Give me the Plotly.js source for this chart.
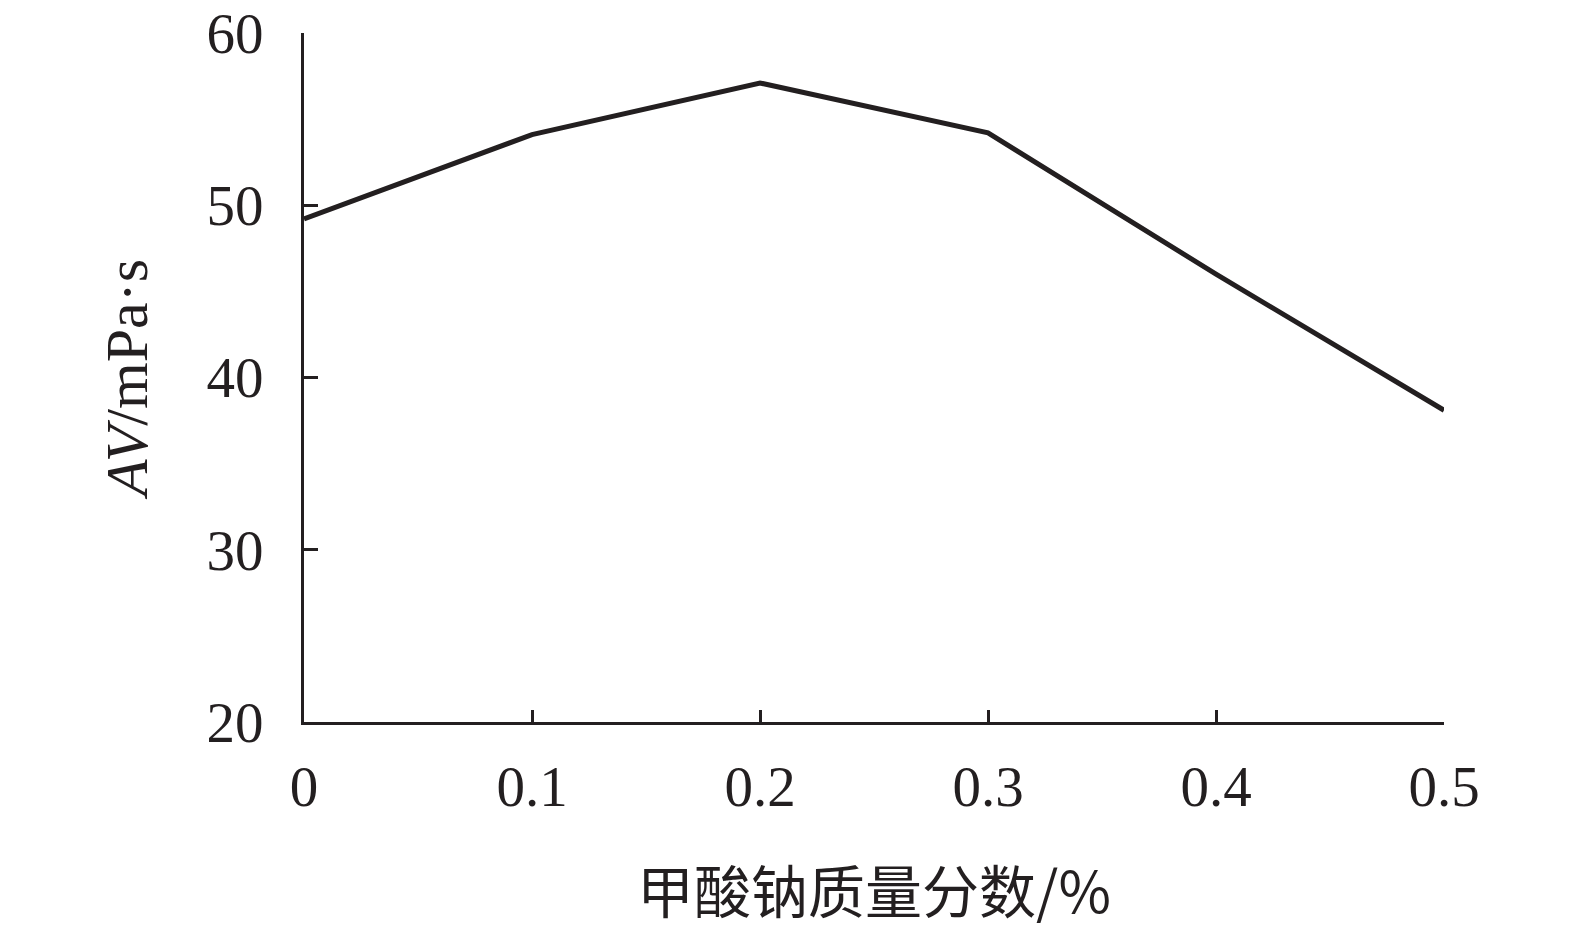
<!DOCTYPE html>
<html>
<head>
<meta charset="utf-8">
<script src="https://cdn.plot.ly/plotly-3.0.1.min.js"></script>
<style>html,body{margin:0;padding:0;background:#fff;}#chart{width:1575px;height:937px;}</style>
</head>
<body>
<div id="chart"></div>
<script>
const xValues = [0, 0.1, 0.2, 0.3, 0.4, 0.5];
const avValues = [49.2, 54.1, 57.1, 54.2, 46.0, 38.1];
const xTickLabels = ['0', '0.1', '0.2', '0.3', '0.4', '0.5'];
const yTickValues = [20, 30, 40, 50, 60];

const ink = '#231f20';
const serif = '"Liberation Serif", "Times New Roman", serif';

const trace = {
  x: xValues, y: avValues, type: 'scatter', mode: 'lines',
  line: {color: ink, width: 5}, hoverinfo: 'skip', showlegend: false
};

const layout = {
  width: 1575, height: 937,
  margin: {l: 304, r: 131, t: 33, b: 215},
  paper_bgcolor: '#fff', plot_bgcolor: '#fff',
  xaxis: {
    range: [0, 0.5], tickvals: xValues, ticktext: xTickLabels,
    showgrid: false, zeroline: false, showline: true, linecolor: ink, linewidth: 3,
    ticks: 'inside', ticklen: 12, tickwidth: 3, tickcolor: ink,
    ticklabelstandoff: 13,
    tickfont: {family: serif, size: 57, color: ink},
    title: {text: '甲酸钠质量分数/%', font: {family: '"Noto Sans CJK SC", sans-serif', size: 57, color: ink}, standoff: 56},
    automargin: false, fixedrange: true
  },
  yaxis: {
    range: [20, 60], tickvals: yTickValues,
    showgrid: false, zeroline: false, showline: true, linecolor: ink, linewidth: 3,
    ticks: 'inside', ticklen: 14, tickwidth: 3, tickcolor: ink,
    ticklabelstandoff: 26,
    tickfont: {family: serif, size: 57, color: ink},
    title: {text: '<i>AV</i>/mPa·s', font: {family: serif, size: 60, color: ink}, standoff: 40},
    automargin: false, fixedrange: true
  }
};

Plotly.newPlot('chart', [trace], layout, {displayModeBar: false, staticPlot: true});
</script>
</body>
</html>
